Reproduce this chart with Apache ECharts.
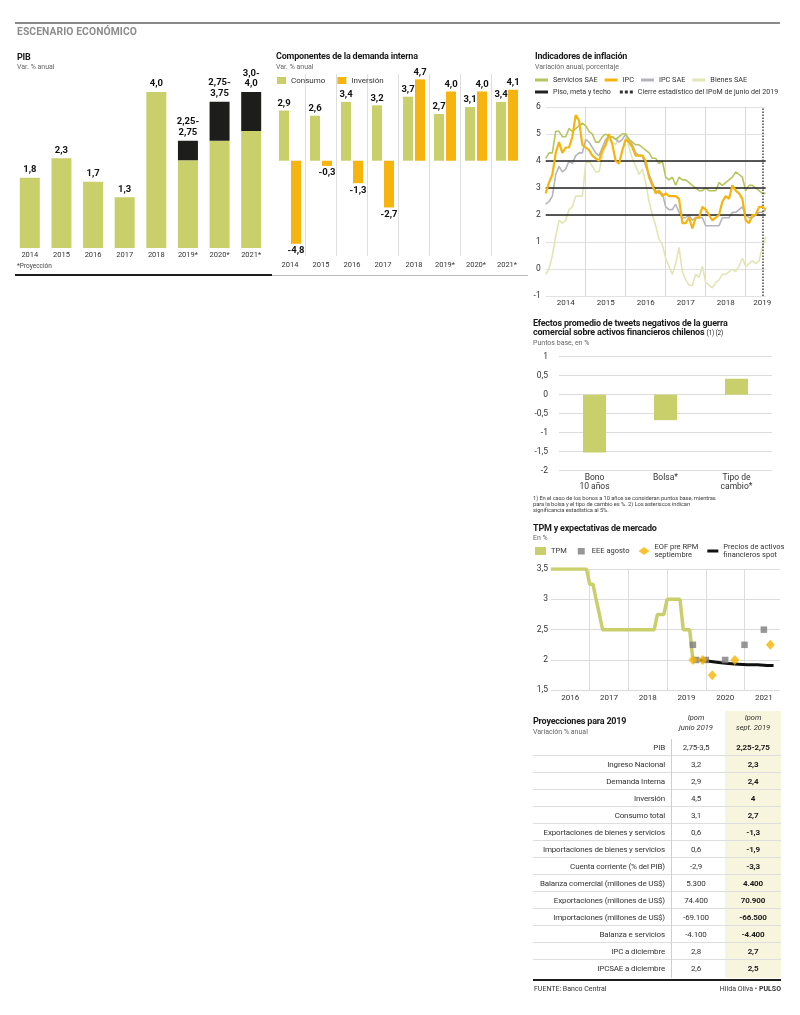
<!DOCTYPE html>
<html><head><meta charset="utf-8">
<script src="https://cdn.jsdelivr.net/npm/echarts/dist/echarts.min.js"></script>
<style>
body{margin:0;width:800px;height:1015px;position:relative;background:#fff;font-family:Roboto,"Noto Sans",sans-serif;color:#222;overflow:hidden;opacity:0.999;-webkit-font-smoothing:antialiased}
.abs{position:absolute;white-space:nowrap}
.hd{font-size:10.3px;font-weight:bold;color:#8c8c8c;line-height:10px;letter-spacing:0.1px}
.t{font-size:9px;font-weight:bold;color:#1a1a1a;line-height:9.5px;letter-spacing:-0.2px}
.s{font-size:7px;color:#666;line-height:8px}
.ch{position:absolute}
.row{position:absolute;left:533px;width:248px;border-bottom:1px solid #dedede;box-sizing:border-box}
.cell{position:absolute;top:0;font-size:8px;letter-spacing:-0.15px;color:#333}
</style></head><body>

<div class="abs" style="left:15px;top:22px;width:765px;height:1.5px;background:#8a8a8a"></div>
<div class="abs hd" style="left:17px;top:27px">ESCENARIO ECONÓMICO</div>

<div class="abs t" style="left:17px;top:53px">PIB</div>
<div class="abs s" style="left:17px;top:63px">Var. % anual</div>
<div class="abs s" style="left:17px;top:262px;font-size:6.5px;color:#444">*Proyección</div>

<div class="abs t" style="left:276px;top:52px">Componentes de la demanda interna</div>
<div class="abs s" style="left:276px;top:63px">Var. % anual</div>

<div class="abs" style="left:15px;top:274px;width:257px;height:2px;background:#1d1d1b"></div>
<div class="abs" style="left:272px;top:274.5px;width:256px;height:1px;background:#bbb"></div>

<div class="abs t" style="left:535px;top:52px">Indicadores de inflación</div>
<div class="abs s" style="left:535px;top:63px">Variación anual, porcentaje</div>

<div class="abs t" style="left:533px;top:318.5px">Efectos promedio de tweets negativos de la guerra<br>comercial sobre activos financieros chilenos <span style="font-weight:normal;font-size:6.5px">(1) (2)</span></div>
<div class="abs s" style="left:533px;top:339px">Puntos base, en %</div>
<div class="abs s" style="left:533px;top:494.5px;font-size:5.8px;line-height:6.4px;color:#444;letter-spacing:-0.1px">1) En el caso de los bonos a 10 años se consideran puntos base, mientras<br>para la bolsa y el tipo de cambio es %. 2) Los asteriscos indican<br>significancia estadística al 5%.</div>

<div class="abs t" style="left:533px;top:523.5px">TPM y expectativas de mercado</div>
<div class="abs s" style="left:533px;top:534px">En %</div>

<div class="abs t" style="left:533px;top:716.5px">Proyecciones para 2019</div>
<div class="abs s" style="left:533px;top:727.5px">Variación % anual</div>
<div class="abs" style="left:725px;top:711px;width:56px;height:267px;background:#f7f5dd"></div>
<div class="abs" style="left:672px;top:713px;width:48px;text-align:center;font-size:7.5px;font-style:italic;line-height:10px;color:#333">Ipom<br>junio 2019</div>
<div class="abs" style="left:725px;top:713px;width:56px;text-align:center;font-size:7.5px;font-style:italic;line-height:10px;color:#333">Ipom<br>sept. 2019</div>
<div id="tbl"></div>
<div class="abs" style="left:671px;top:739px;width:1px;height:239px;background:#cfcfcf"></div>
<div class="abs" style="left:533px;top:978.5px;width:248px;height:2.5px;background:#1d1d1b"></div>
<div class="abs" style="left:534px;top:985px;font-size:7px;color:#333">FUENTE: Banco Central</div>
<div class="abs" style="right:19px;top:985px;font-size:7px;color:#333">Hilda Oliva • <b>PULSO</b></div>

<div id="pib" class="ch" style="left:0;top:40px;width:272px;height:240px"></div>
<div id="comp" class="ch" style="left:270px;top:40px;width:262px;height:240px"></div>
<div id="infl" class="ch" style="left:530px;top:40px;width:270px;height:272px"></div>
<div id="tw" class="ch" style="left:530px;top:345px;width:270px;height:150px"></div>
<div id="tpm" class="ch" style="left:530px;top:540px;width:270px;height:172px"></div>

<script>
// ---------- DATA ----------
const pibYears = ['2014','2015','2016','2017','2018','2019*','2020*','2021*'];
const pibLow   = [1.8, 2.3, 1.7, 1.3, 4.0, 2.25, 2.75, 3.0];
const pibHigh  = [null, null, null, null, null, 2.75, 3.75, 4.0];

const compYears = ['2014','2015','2016','2017','2018','2019*','2020*','2021*'];
const consumo   = [2.9, 2.6, 3.4, 3.2, 3.7, 2.7, 3.1, 3.4];
const inversion = [-4.8, -0.3, -1.3, -2.7, 4.7, 4.0, 4.0, 4.1];

const inflYears = ['2014','2015','2016','2017','2018','2019'];
const serviciosSAE = [
 4.1,4.3,4.3,5.1,5.1,4.9,4.9,5.2,5.1,5.2,5.3,5.4,
 5.3,5.1,5.0,4.7,4.7,4.9,5.0,4.9,4.9,4.8,4.9,5.0,
 5.0,4.8,4.7,4.6,4.6,4.5,4.4,4.3,4.1,4.1,3.9,4.0,
 3.4,3.3,3.4,3.1,3.4,3.3,3.3,3.2,3.1,3.0,2.9,2.9,
 3.0,2.9,2.9,2.9,3.2,3.1,3.2,3.3,3.4,3.6,3.5,3.4,
 2.9,3.1,3.1,3.0,2.9,2.8,2.8];
const ipc = [
 2.8,3.2,3.5,4.3,4.7,4.3,4.5,4.5,4.9,5.7,5.5,4.6,
 4.5,4.4,4.2,4.1,4.0,4.4,4.6,5.0,4.6,4.0,3.9,4.4,
 4.8,4.7,4.5,4.2,4.2,4.2,4.0,3.4,3.1,2.8,2.9,2.7,
 2.8,2.7,2.7,2.7,2.6,1.7,1.7,1.9,1.5,1.9,1.9,2.3,
 2.2,2.0,1.8,1.9,2.0,2.5,2.7,2.6,3.1,2.9,2.8,2.6,
 1.8,1.7,2.0,2.0,2.3,2.3,2.2];
const ipcSAE = [
 2.4,2.5,2.7,3.5,3.8,3.6,3.7,4.0,3.9,4.2,4.3,4.3,
 4.8,4.7,4.5,4.3,4.2,4.5,4.8,4.9,4.9,4.8,4.7,4.8,
 5.0,4.8,4.6,4.3,4.2,4.2,3.8,3.5,3.2,2.9,2.8,2.8,
 2.3,2.2,2.2,2.4,2.1,1.9,1.9,2.0,1.8,1.9,1.9,1.9,
 1.6,1.6,1.6,1.6,1.6,1.9,1.9,1.9,2.1,2.1,2.2,2.3,
 2.0,1.9,1.9,2.0,2.1,2.1,2.2];
const bienesSAE = [
 -0.2,0.0,0.5,1.2,1.8,1.7,1.8,2.2,2.3,2.7,2.7,2.7,
 3.9,4.0,3.8,3.6,3.6,4.2,4.6,4.8,4.7,4.6,4.9,5.0,
 5.0,4.5,4.1,3.8,3.5,3.7,3.2,2.5,2.0,1.6,1.1,0.9,
 0.4,0.1,-0.2,0.2,0.8,-0.1,-0.4,-0.6,-0.6,-0.2,-0.3,0.1,
 -0.5,-0.6,-0.7,-0.5,-0.4,-0.2,-0.2,-0.1,0.0,-0.1,0.1,0.4,
 0.1,0.2,0.3,0.2,0.3,0.8,1.2];
const pisoMetaTecho = [2, 3, 4];
const cierreIPoM = '2019-06';

const twCats = ['Bono\n10 años', 'Bolsa*', 'Tipo de\ncambio*'];
const twVals = [-1.52, -0.67, 0.42];

const tpmYears = ['2016','2017','2018','2019','2020','2021'];
const tpm = [
 3.5,3.5,3.5,3.5,3.5,3.5,3.5,3.5,3.5,3.5,3.5,3.5,
 3.25,3.25,3.0,2.75,2.5,2.5,2.5,2.5,2.5,2.5,2.5,2.5,
 2.5,2.5,2.5,2.5,2.5,2.5,2.5,2.5,2.5,2.75,2.75,2.75,
 3.0,3.0,3.0,3.0,3.0,2.5,2.5,2.5,2.0];
const eeeIdx = [44, 45, 48, 54, 60, 66];
const eeeVal = [2.25, 2.0, 2.0, 2.0, 2.25, 2.5];
const eofIdx = [44, 47, 50, 57, 68];
const eofVal = [2.0, 2.0, 1.75, 2.0, 2.25];
const spotIdx = [46, 49, 52, 55, 58, 61, 64, 67, 69];
const spotVal = [2.0, 1.98, 1.96, 1.94, 1.93, 1.92, 1.92, 1.91, 1.91];

const tblLabels = ['PIB','Ingreso Nacional','Demanda Interna','Inversión','Consumo total',
 'Exportaciones de bienes y servicios','Importaciones de bienes y servicios','Cuenta corriente (% del PIB)',
 'Balanza comercial (millones de US$)','Exportaciones (millones de US$)','Importaciones (millones de US$)',
 'Balanza e servicios','IPC a diciembre','IPCSAE a diciembre'];
const tblJunio = ['2,75-3,5','3,2','2,9','4,5','3,1','0,6','0,6','-2,9','5.300','74.400','-69.100','-4.100','2,8','2,6'];
const tblSept  = ['2,25-2,75','2,3','2,4','4','2,7','-1,3','-1,9','-3,3','4.400','70.900','-66.500','-4.400','2,7','2,5'];

// ---------- HELPERS ----------
const GREEN = '#c9cf6b', ORANGE = '#f6b40e', DARK = '#1d1d1b';
const FONT = 'Roboto, "Noto Sans", sans-serif';
const fmtC = v => String(v).replace('.', ',');
const fmt1 = v => (Number.isInteger(v) ? v.toFixed(1) : String(v)).replace('.', ',');
function months(years, n){ const a=[]; years.forEach(y=>{for(let m=1;m<=12;m++) a.push(y+'-'+String(m).padStart(2,'0'));}); return a.slice(0,n); }
const lblStyle = {fontSize:9.5, fontWeight:'bold', color:'#111', fontFamily:FONT};

// ---------- PIB ----------
echarts.init(document.getElementById('pib')).setOption({
  animation:false, textStyle:{fontFamily:FONT},
  grid:{left:14, top:13, width:253, height:195, outerBoundsMode:'none'},
  xAxis:{type:'category', data:pibYears, axisLine:{show:false}, axisTick:{show:false}, splitLine:{show:false},
    axisLabel:{interval:0, fontSize:7.5, color:'#333', margin:3}},
  yAxis:{type:'value', min:0, max:5, show:false},
  series:[
    {type:'bar', stack:'pib', barWidth:20, itemStyle:{color:GREEN},
     data:pibLow.map((v,i)=>({value:v, label:{show:pibHigh[i]==null}})),
     label:Object.assign({position:'top', distance:3, formatter:p=>fmt1(p.value)}, lblStyle)},
    {type:'bar', stack:'pib', barWidth:20, itemStyle:{color:DARK},
     data:pibHigh.map((v,i)=> v==null ? '-' : ({value:+(v-pibLow[i]).toFixed(2), label:{show:true}})),
     label:Object.assign({position:'top', distance:3, lineHeight:10.5,
       formatter:p=>fmt1(pibLow[p.dataIndex])+'-\n'+fmt1(pibHigh[p.dataIndex])}, lblStyle)}
  ]
});

// ---------- COMPONENTES ----------
echarts.init(document.getElementById('comp')).setOption({
  animation:false, textStyle:{fontFamily:FONT},
  legend:{left:7, top:36.5, padding:0, icon:'rect', itemWidth:9, itemHeight:7, itemGap:12,
    textStyle:{fontSize:8, color:'#333'}, data:['Consumo','Inversión']},
  grid:{left:4.5, top:34.2, width:248, height:181.7, outerBoundsMode:'none'},
  xAxis:{type:'category', data:compYears, axisLine:{show:false}, axisTick:{show:false},
    axisLabel:{interval:0, fontSize:7.5, color:'#333', margin:5},
    splitLine:{show:true, showMinLine:false, showMaxLine:false, lineStyle:{color:'#dedede', width:1}}},
  yAxis:{type:'value', min:-5.5, max:5, show:false},
  series:[
    {name:'Consumo', type:'bar', barWidth:10, barGap:'20%', data:consumo, itemStyle:{color:GREEN},
     label:Object.assign({show:true, position:'top', distance:2, formatter:p=>fmt1(p.value)}, lblStyle)},
    {name:'Inversión', type:'bar', barWidth:10, barGap:'20%', itemStyle:{color:ORANGE},
     data:inversion.map(v=>({value:v, label:{position: v<0 ? 'bottom' : 'top'}})),
     label:Object.assign({show:true, distance:2, formatter:p=>fmt1(p.value)}, lblStyle)}
  ]
});

// ---------- INFLACIÓN ----------
const inflMonths = months(inflYears, ipc.length);
const CIERRE = 'Cierre estadístico del IPoM de junio del 2019';
echarts.init(document.getElementById('infl')).setOption({
  animation:false, textStyle:{fontFamily:FONT},
  legend:[
    {data:['Servicios SAE','IPC','IPC SAE','Bienes SAE'], left:5, top:36.5, padding:0, width:400, icon:'rect',
     itemWidth:13, itemHeight:3, itemGap:7, textStyle:{fontSize:7.3, color:'#333'}},
    {data:['Piso, meta y techo', {name:CIERRE, icon:'path://M0,0h3v3h-3zM5,0h3v3h-3zM10,0h3v3h-3z'}], left:5, top:48.5, padding:0,
     width:400, icon:'rect', itemWidth:13, itemHeight:3, itemGap:9, textStyle:{fontSize:7.1, color:'#333'}}
  ],
  grid:{left:15.7, top:67, width:220, height:189, outerBoundsMode:'none'},
  xAxis:{type:'category', data:inflMonths, boundaryGap:false, axisLine:{show:false}, axisTick:{show:false},
    axisLabel:{interval:(i)=> (i%12===6 && i<60) || i===65, formatter:v=>v.slice(0,4), fontSize:8, color:'#333', margin:3},
    splitLine:{show:true, interval:(i)=> i%12===0 && i>0, lineStyle:{color:'#d9d9d9'}}},
  yAxis:{type:'value', min:-1, max:6, interval:1, axisLine:{show:false}, axisTick:{show:false},
    axisLabel:{fontSize:8.5, color:'#333', margin:5}, splitLine:{lineStyle:{color:'#e2e2e2'}}},
  series:[
    {name:'Piso, meta y techo', type:'line', data:[], z:1, itemStyle:{color:'#222'}, lineStyle:{color:'#222'},
     markLine:{silent:true, symbol:'none', label:{show:false}, lineStyle:{color:'#222', width:1.5, type:'solid'},
       data:pisoMetaTecho.map(v=>({yAxis:v}))}},
    {name:CIERRE, type:'line', data:[], z:1, itemStyle:{color:'#333'}, lineStyle:{color:'#333'},
     markLine:{silent:true, symbol:'none', label:{show:false}, lineStyle:{color:'#444', width:1.5, type:[1.5,1.5]},
       data:[{xAxis:cierreIPoM}]}},
    {name:'Bienes SAE', type:'line', data:bienesSAE, symbol:'none', z:2, lineStyle:{color:'#e2e5b4', width:1.6}, itemStyle:{color:'#e2e5b4'}},
    {name:'IPC SAE', type:'line', data:ipcSAE, symbol:'none', z:3, lineStyle:{color:'#b5b5bb', width:1.6}, itemStyle:{color:'#b5b5bb'}},
    {name:'Servicios SAE', type:'line', data:serviciosSAE, symbol:'none', z:4, lineStyle:{color:'#b8c45e', width:1.6}, itemStyle:{color:'#b8c45e'}},
    {name:'IPC', type:'line', data:ipc, symbol:'none', z:5, lineStyle:{color:ORANGE, width:2.2}, itemStyle:{color:ORANGE}}
  ]
});

// ---------- TWEETS ----------
echarts.init(document.getElementById('tw')).setOption({
  animation:false, textStyle:{fontFamily:FONT},
  grid:{left:29, top:11.7, width:213, height:114, outerBoundsMode:'none'},
  xAxis:{type:'category', data:twCats, axisLine:{show:false}, axisTick:{show:false},
    axisLabel:{interval:0, fontSize:8.5, lineHeight:9, color:'#333', margin:3}},
  yAxis:{type:'value', min:-2, max:1, interval:0.5, axisLine:{show:false}, axisTick:{show:false},
    axisLabel:{fontSize:8.5, color:'#333', margin:11, formatter:fmtC}, splitLine:{lineStyle:{color:'#dcdcdc'}}},
  series:[{type:'bar', data:twVals, barWidth:23, itemStyle:{color:GREEN}}]
});

// ---------- TPM ----------
const tpmMonths = months(tpmYears, 72);
const SPOT = 'Precios de activos financieros spot', EOF = 'EOF pre RPM septiembre';
const legendNames = {[EOF]:'EOF pre RPM\nseptiembre', [SPOT]:'Precios de activos\nfinancieros spot'};
echarts.init(document.getElementById('tpm')).setOption({
  animation:false, textStyle:{fontFamily:FONT},
  legend:{left:5, top:3, padding:0, width:400, itemWidth:11, itemHeight:8, itemGap:9,
    textStyle:{fontSize:7.5, color:'#333', lineHeight:8},
    formatter:n=>legendNames[n]||n,
    data:[{name:'TPM', icon:'rect'},
          {name:'EEE agosto', icon:'path://M0,0h0.01v0.01h-0.01zM2,1h7v6.5h-7zM10.99,7.99h0.01v0.01h-0.01z'},
          {name:EOF, icon:'diamond'},
          {name:SPOT, icon:'path://M0,0h0.01v0.01h-0.01zM0,2.6h11v3h-11zM10.99,7.99h0.01v0.01h-0.01z'}]},
  grid:{left:21, top:29, width:229, height:121.3, outerBoundsMode:'none'},
  xAxis:{type:'category', data:tpmMonths, boundaryGap:false, axisLine:{show:false}, axisTick:{show:false},
    axisLabel:{interval:(i)=> i%12===6, formatter:v=>v.slice(0,4), fontSize:8, color:'#333', margin:4},
    splitLine:{show:true, interval:(i)=> i%12===0 && i>0, lineStyle:{color:'#dcdcdc'}}},
  yAxis:{type:'value', min:1.5, max:3.5, interval:0.5, axisLine:{show:false}, axisTick:{show:false},
    axisLabel:{fontSize:8.5, color:'#333', margin:3, formatter:fmtC}, splitLine:{lineStyle:{color:'#dcdcdc'}}},
  series:[
    {name:'TPM', type:'line', data:tpm, symbol:'none', z:2, lineStyle:{color:GREEN, width:3.5}, itemStyle:{color:GREEN}},
    {name:SPOT, type:'line', data:spotIdx.map((x,i)=>[x, spotVal[i]]), symbol:'none', z:3, lineStyle:{color:'#111', width:3}, itemStyle:{color:'#111'}},
    {name:'EEE agosto', type:'scatter', data:eeeIdx.map((x,i)=>[x, eeeVal[i]]), symbol:'rect', symbolSize:6.5, z:4, itemStyle:{color:'#7d7d7d'}},
    {name:EOF, type:'scatter', data:eofIdx.map((x,i)=>[x, eofVal[i]]), symbol:'diamond', symbolSize:[9,10], z:5, itemStyle:{color:'#f7b500'}}
  ]
});

// ---------- TABLE ----------
const tbl = document.getElementById('tbl');
const ROW0 = 738.8, RH = 17.05;
tblLabels.forEach((lab, i) => {
  const r = document.createElement('div');
  r.className = 'row';
  r.style.top = (ROW0 + i*RH) + 'px';
  r.style.height = RH + 'px';
  r.style.lineHeight = RH + 'px';
  if (i === tblLabels.length - 1) r.style.borderBottom = 'none';
  r.innerHTML =
    '<div class="cell" style="left:0;width:132px;text-align:right">' + lab + '</div>' +
    '<div class="cell" style="left:139px;width:48px;text-align:center">' + tblJunio[i] + '</div>' +
    '<div class="cell" style="left:192px;width:56px;text-align:center;font-weight:bold;color:#1a1a1a">' + tblSept[i] + '</div>';
  tbl.appendChild(r);
});
</script>
</body></html>
